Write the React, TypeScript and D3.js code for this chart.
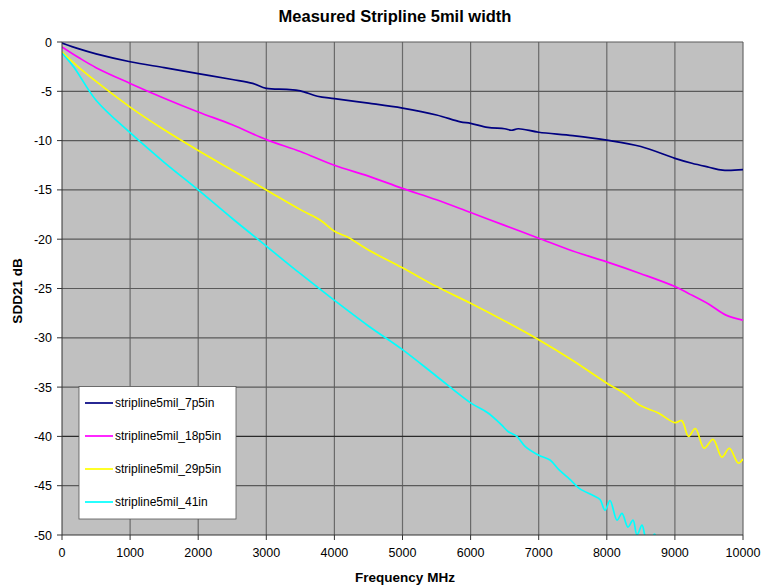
import React from 'react';
import * as d3 from 'd3';

// chart values
const seriesNames = ['stripline5mil_7p5in', 'stripline5mil_18p5in', 'stripline5mil_29p5in', 'stripline5mil_41in'];
const seriesColors = ['#000080', '#FF00FF', '#FFFF00', '#00FFFF'];

const freq7p5 = [0, 250, 500, 1000, 1500, 2000, 2500, 2800, 3000, 3300, 3500, 3750, 4000, 4500, 5000, 5500, 5850, 6000, 6250, 6500, 6600, 6700, 7000, 7500, 8000, 8500, 9000, 9250, 9500, 9700, 10000];
const sdd7p5 = [-0.1, -0.7, -1.2, -2.0, -2.6, -3.2, -3.8, -4.2, -4.7, -4.8, -4.95, -5.5, -5.75, -6.2, -6.7, -7.4, -8.1, -8.25, -8.65, -8.8, -8.95, -8.8, -9.15, -9.5, -9.95, -10.6, -11.8, -12.3, -12.7, -13.0, -12.95];

const freq18p5 = [0, 250, 500, 1000, 1500, 2000, 2500, 3000, 3500, 4000, 4500, 5000, 5500, 6000, 6500, 7000, 7500, 8000, 8500, 9000, 9200, 9500, 9750, 10000];
const sdd18p5 = [-0.5, -1.6, -2.6, -4.2, -5.7, -7.1, -8.4, -9.9, -11.1, -12.5, -13.6, -14.85, -16.0, -17.3, -18.6, -19.9, -21.2, -22.3, -23.5, -24.8, -25.5, -26.6, -27.7, -28.2];

const freq29p5 = [0, 250, 500, 1000, 1500, 2000, 2500, 3000, 3500, 3800, 4000, 4200, 4500, 5000, 5500, 6000, 6500, 7000, 7500, 8000, 8250, 8500, 8750, 9000, 9100, 9200, 9300, 9430, 9560, 9690, 9800, 9930, 10000];
const sdd29p5 = [-1.0, -2.6, -4.0, -6.6, -8.9, -11.0, -13.0, -15.0, -17.0, -18.1, -19.2, -19.8, -21.1, -22.9, -24.8, -26.5, -28.3, -30.2, -32.3, -34.6, -35.6, -36.9, -37.6, -38.6, -38.4, -40.0, -39.2, -41.2, -40.3, -42.1, -41.2, -42.7, -42.3];

const freq41 = [0, 170, 500, 1000, 1500, 2000, 2500, 3000, 3500, 4000, 4500, 5000, 5500, 6000, 6250, 6450, 6550, 6680, 6800, 7000, 7166, 7300, 7450, 7600, 7800, 7900, 7974, 8047, 8150, 8223, 8311, 8385, 8443, 8517, 8561, 8620, 8700, 8780];
const sdd41 = [-1.15, -2.5, -5.9, -9.2, -12.2, -15.0, -17.9, -20.7, -23.5, -26.2, -28.8, -31.2, -33.9, -36.6, -37.6, -38.8, -39.5, -40.0, -41.0, -41.9, -42.4, -43.4, -44.3, -45.3, -46.0, -46.4, -47.5, -46.5, -48.5, -47.8, -49.2, -48.5, -50.0, -49.0, -50.1, -51.0, -49.9, -51.5];

const freqs = [freq7p5, freq18p5, freq29p5, freq41];
const values = [sdd7p5, sdd18p5, sdd29p5, sdd41];

const xTicks = [0, 1000, 2000, 3000, 4000, 5000, 6000, 7000, 8000, 9000, 10000];
const yTicks = [0, -5, -10, -15, -20, -25, -30, -35, -40, -45, -50];

const W = 763;
const H = 586;
const margin = { left: 62, right: 20, top: 42, bottom: 51 };
const font = '"Liberation Sans", Arial, sans-serif';

export default function App() {
  const x = d3.scaleLinear().domain([0, 10000]).range([margin.left, W - margin.right]);
  const y = d3.scaleLinear().domain([0, -50]).range([margin.top, H - margin.bottom]);

  const line = d3.line<[number, number]>()
    .x((d) => x(d[0]))
    .y((d) => y(d[1]))
    .curve(d3.curveCatmullRom.alpha(0.5));

  const [x0, x1] = x.range();
  const [y0, y1] = y.range();

  return (
    <svg width={W} height={H} style={{ position: 'absolute', left: 0, top: 0, background: '#fff' }} fontFamily={font}>
      <defs>
        <clipPath id="plot">
          <rect x={x0} y={y0} width={x1 - x0} height={y1 - y0} />
        </clipPath>
      </defs>
      <text x={395} y={22} textAnchor="middle" fontSize={16.5} fontWeight="bold">Measured Stripline 5mil width</text>

      <rect x={x0} y={y0} width={x1 - x0} height={y1 - y0} fill="#C0C0C0" />

      {xTicks.slice(1).map((t) => (
        <line key={'vx' + t} x1={x(t)} x2={x(t)} y1={y0} y2={y1} stroke="#6a6a6a" strokeWidth={1.2} />
      ))}
      {yTicks.slice(0, -1).map((t) => (
        <line key={'hy' + t} x1={x0} x2={x1} y1={y(t)} y2={y(t)} stroke={t === -40 ? '#2a2a2a' : '#5a5a5a'} strokeWidth={1.2} />
      ))}

      <g clipPath="url(#plot)">
        {values.map((vals, i) => (
          <path
            key={seriesNames[i]}
            d={line(vals.map((v, j) => [freqs[i][j], v] as [number, number])) || ''}
            fill="none"
            stroke={seriesColors[i]}
            strokeWidth={1.7}
          />
        ))}
      </g>

      {/* axes */}
      <line x1={x0} x2={x0} y1={y0} y2={y1} stroke="#333" strokeWidth={1} />
      <line x1={x0} x2={x1} y1={y1} y2={y1} stroke="#333" strokeWidth={1} />
      {yTicks.map((t) => (
        <g key={'yt' + t}>
          <line x1={x0 - 5} x2={x0} y1={y(t)} y2={y(t)} stroke="#333" />
          <text x={x0 - 10} y={y(t) + 4.5} textAnchor="end" fontSize={12.5}>{t}</text>
        </g>
      ))}
      {xTicks.map((t) => (
        <g key={'xt' + t}>
          <line x1={x(t)} x2={x(t)} y1={y1} y2={y1 + 5} stroke="#333" />
          <text x={x(t)} y={y1 + 22} textAnchor="middle" fontSize={12.5}>{t}</text>
        </g>
      ))}

      <text x={405} y={582} textAnchor="middle" fontSize={13.5} fontWeight="bold">Frequency MHz</text>
      <text transform={`translate(22,291) rotate(-90)`} textAnchor="middle" fontSize={13.5} fontWeight="bold">SDD21 dB</text>

      {/* legend */}
      <rect x={79} y={386.5} width={157} height={132.5} fill="#fff" stroke="#555" strokeWidth={0.8} />
      {seriesNames.map((name, i) => (
        <g key={'lg' + name} transform={`translate(85,${403 + i * 33})`}>
          <line x1={0} x2={28} y1={0} y2={0} stroke={seriesColors[i]} strokeWidth={1.7} />
          <text x={30} y={4} fontSize={12}>{name}</text>
        </g>
      ))}
    </svg>
  );
}
